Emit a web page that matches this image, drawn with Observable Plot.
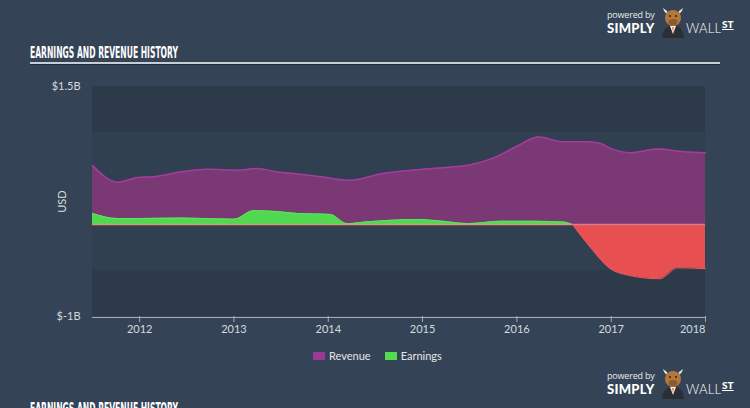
<!DOCTYPE html>
<html><head><meta charset="utf-8">
<script src="https://cdn.jsdelivr.net/npm/d3@7"></script>
<script src="https://cdn.jsdelivr.net/npm/@observablehq/plot@0.6"></script>
<style>
html,body{margin:0;padding:0;background:#344456;}
#wrap{position:relative;width:750px;height:408px;overflow:hidden;background:#344456;font-family:Lato,"Open Sans",sans-serif;}
.title{position:absolute;left:30px;color:#fff;font-family:"Liberation Sans Narrow","DejaVu Sans Condensed",sans-serif;font-weight:bold;font-size:16px;line-height:16px;transform-origin:left top;white-space:nowrap;}
.rule{position:absolute;left:30px;width:690px;height:2px;background:#c9ced4;box-shadow:0 1px 0 #1f2a36;}
.logo{position:absolute;left:607px;width:135px;height:30px;color:#fff;}
.logo div{position:absolute;white-space:nowrap;}
.logo .pb{left:0;top:0;font-size:9px;line-height:10px;color:#e6e9ec;font-family:"Open Sans",sans-serif;letter-spacing:-0.2px;}
.logo .simply{left:0;top:11px;font-size:13px;line-height:14px;font-weight:900;font-family:Lato,sans-serif;letter-spacing:0.3px;}
.logo .wall{left:79px;top:11px;font-size:13px;line-height:14px;font-weight:300;font-family:Lato,sans-serif;letter-spacing:0.2px;}
.logo .st{left:115px;top:9px;font-size:10px;line-height:11px;font-weight:900;font-family:Lato,sans-serif;text-decoration:underline;}
.logo svg{position:absolute;left:52px;top:-6px;}
#chart{position:absolute;left:0;top:70px;}
.legend{position:absolute;top:349px;left:313px;font-size:11px;color:#e4e6e9;font-family:Lato,sans-serif;}
.legend span.sw{display:inline-block;width:12px;height:8px;vertical-align:middle;margin-right:4px;position:relative;top:-1px;}
.legend span.it{margin-right:14px;}
</style>
</head><body>
<div id="wrap">
  <div class="title" style="top:45px">EARNINGS AND REVENUE HISTORY</div>
  <div class="rule" style="top:62px"></div>
  <div class="logo" style="top:10px" id="logo1"></div>
  <div id="chart"></div>
  <div class="legend"><span class="it"><span class="sw" style="background:#9c3896"></span>Revenue</span><span class="it"><span class="sw" style="background:#4fdc50"></span>Earnings</span></div>
  <div class="logo" style="top:371px" id="logo2"></div>
  <div class="title" style="top:401px">EARNINGS AND REVENUE HISTORY</div>
</div>
<script>
// ---- data (USD billions) ----
const revYear = [2011.5, 2011.77, 2011.98, 2012.15, 2012.43, 2012.72, 2013.04, 2013.25, 2013.46, 2013.67, 2013.92, 2014.24, 2014.55, 2015.0, 2015.51, 2015.77, 2016.0, 2016.23, 2016.49, 2016.75, 2016.89, 2016.99, 2017.2, 2017.49, 2017.77, 2018.0];
const revenue = [0.64, 0.46, 0.51, 0.52, 0.57, 0.60, 0.59, 0.61, 0.57, 0.55, 0.52, 0.48, 0.55, 0.60, 0.65, 0.73, 0.85, 0.95, 0.90, 0.90, 0.88, 0.83, 0.78, 0.82, 0.79, 0.78];
const earnYear = [2011.5, 2011.77, 2011.98, 2012.43, 2013.0, 2013.21, 2013.46, 2013.67, 2014.02, 2014.2, 2014.42, 2014.95, 2015.22, 2015.48, 2015.83, 2016.18, 2016.49, 2016.59, 2016.78, 2016.99, 2017.13, 2017.52, 2017.6, 2017.7, 2018.0];
const earnings = [0.12, 0.065, 0.065, 0.07, 0.058, 0.15, 0.14, 0.12, 0.11, 0.01, 0.03, 0.055, 0.035, 0.01, 0.035, 0.035, 0.027, 0, -0.25, -0.48, -0.54, -0.59, -0.54, -0.47, -0.48];
const xTicks = [2012, 2013, 2014, 2015, 2016, 2017, 2018];
const yTicks = [1.5, -1];
const yTickLabels = ["$1.5B", "$-1B"];
const bands = [[1, 1.5], [-1, -0.5]];

const rev = revYear.map((x, i) => ({x, v: revenue[i]}));
const earn = earnYear.map((x, i) => ({x, v: earnings[i]}));
const pos = earn.filter(d => d.v >= 0);
const neg = earn.filter(d => d.x >= 2016.59);
const xMin = revYear[0], xMax = revYear[revYear.length - 1];

const chart = Plot.plot({
  width: 750, height: 275,
  marginLeft: 92, marginRight: 45, marginTop: 16, marginBottom: 29,
  style: {background: "transparent", color: "#d3d8de", fontFamily: "Lato, 'Open Sans', sans-serif", fontSize: "11px"},
  x: {domain: [xMin, xMax]},
  y: {domain: [-1, 1.5]},
  marks: [
    Plot.rect([0], {x1: xMin, x2: xMax, y1: -1, y2: 1.5, fill: "#304051"}),
    Plot.rect(bands, {x1: xMin, x2: xMax, y1: d => d[0], y2: d => d[1], fill: "#2c3a4a"}),
    Plot.areaY(rev, {x: "x", y: "v", fill: "#7a3874", curve: "monotone-x"}),
    Plot.lineY(rev, {x: "x", y: "v", stroke: "#a43c9f", strokeWidth: 1.5, curve: "monotone-x"}),
    Plot.areaY(pos, {x: "x", y: "v", fill: "#4fd850", curve: "monotone-x"}),
    Plot.lineY(pos, {x: "x", y: "v", stroke: "#5ae85a", strokeWidth: 1, curve: "monotone-x"}),
    Plot.areaY(neg, {x: "x", y: "v", fill: "#e84f51", curve: "monotone-x"}),
    Plot.lineY(neg, {x: "x", y: "v", stroke: "#f05a5c", strokeWidth: 1, curve: "monotone-x"}),
    Plot.ruleY([0], {x1: xMin, x2: 2016.59, stroke: "#d59c74", strokeWidth: 1.5}),
    Plot.ruleY([0], {x1: 2016.59, x2: xMax, stroke: "#e0788a", strokeWidth: 1.5}),
    Plot.ruleY([-1], {x1: xMin, x2: xMax, stroke: "#9fadbb", strokeWidth: 1, dy: 1}),
    Plot.axisY({ticks: yTicks, tickFormat: (d) => yTickLabels[yTicks.indexOf(d)], tickSize: 0, tickPadding: 12, label: "USD", labelAnchor: "center", labelOffset: 34, labelArrow: "none", fill: "#d6dade"}),
    Plot.axisX({ticks: xTicks.slice(0, -1), tickFormat: d => String(d), tickSize: 6, tickPadding: 3, stroke: "#9fadbb", fill: "#d6dade", label: null}),
    Plot.axisX({ticks: xTicks.slice(-1), tickFormat: d => String(d), tickSize: 6, tickPadding: 3, stroke: "#9fadbb", fill: "#d6dade", textAnchor: "end", label: null})
  ]
});
document.getElementById("chart").appendChild(chart);

// logos
const bull = `<svg width="28" height="34" viewBox="0 0 28 34">
<path d="M4 4 Q5 9 9 10 L8 7 Z" fill="#e8e2d6"/><path d="M24 4 Q23 9 19 10 L20 7 Z" fill="#e8e2d6"/>
<path d="M3 34 Q4 22 14 21 Q24 22 25 34 Z" fill="#2b2f33"/>
<path d="M11 22 L14 30 L17 22 Z" fill="#f2f2f2"/><path d="M13.2 23 L14 29 L14.8 23 Z" fill="#e0602a"/>
<ellipse cx="14" cy="14" rx="8" ry="8" fill="#b4773a"/>
<ellipse cx="14" cy="18" rx="4.5" ry="3" fill="#8a5a2c"/>
<circle cx="11" cy="12" r="1" fill="#222"/><circle cx="17" cy="12" r="1" fill="#222"/>
</svg>`;
for (const id of ["logo1", "logo2"]) {
  document.getElementById(id).innerHTML = `<div class="pb">powered by</div><div class="simply">SIMPLY</div>${bull}<div class="wall">WALL</div><div class="st">ST</div>`;
}
// fit title width to reference (approx 148px)
document.querySelectorAll(".title").forEach(el => {
  const w = el.getBoundingClientRect().width;
  if (w > 0) el.style.transform = `scaleX(${148 / w})`;
});
</script>
</body></html>
